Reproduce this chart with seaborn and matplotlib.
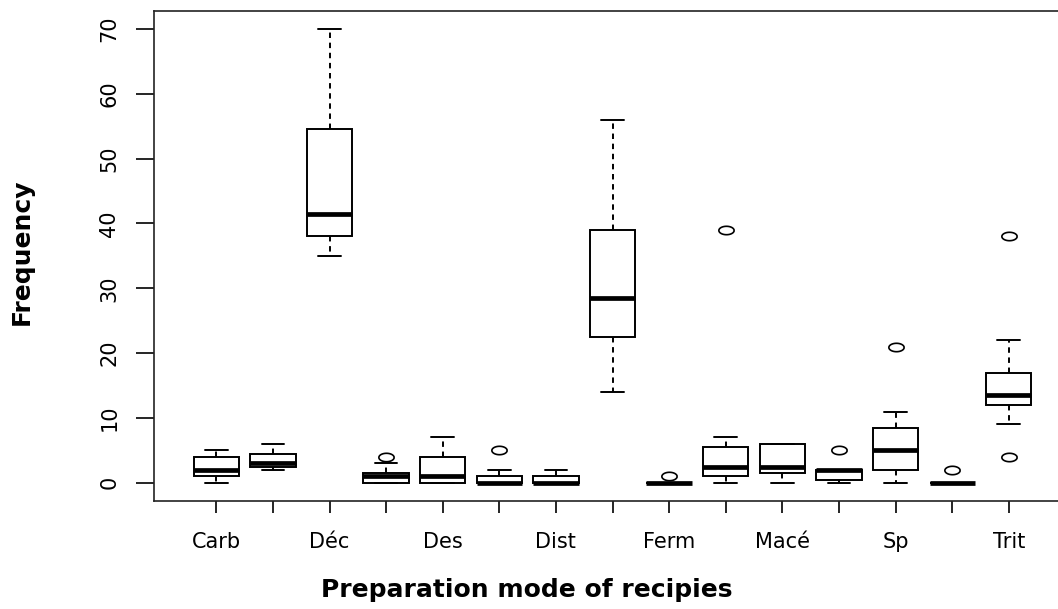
import numpy as np
import pandas as pd
import matplotlib
matplotlib.use("Agg")
import matplotlib.pyplot as plt
import seaborn as sns
from matplotlib.path import Path

# --- data: preparation modes in x-axis order (R only printed every other name) ---
modes = ["Carb", "Conc", "Déc", "Déco", "Des", "Dig", "Dist", "Écr",
         "Ferm", "Inf", "Macé", "Pou", "Sp", "Suc", "Trit"]
shown_labels = ["Carb", "", "Déc", "", "Des", "", "Dist", "",
                "Ferm", "", "Macé", "", "Sp", "", "Trit"]

# frequencies per mode (whiskers, hinges, median, outliers)
carb = [0, 1, 2, 4, 5]
conc = [2, 2.5, 3, 4.5, 6]
dec = [35, 38, 41.5, 54.5, 70]
deco = [0, 0, 0, 0, 1, 1, 1.5, 3, 4]
des = [0, 0, 1, 4, 7]
dig = [0, 0, 0, 0, 0, 1, 1, 2, 5]
dist = [0, 0, 0, 1, 2]
ecr = [14, 22.5, 28.5, 39, 56]
ferm = [0, 0, 0, 0, 0, 0, 0, 0, 1]
inf = [0, 1, 1, 2, 2.5, 4, 5.5, 7, 39]
mace = [0, 1.5, 2.5, 6, 6]
pou = [0, 0, 0.5, 1, 2, 2, 2, 2, 5]
sp = [0, 1, 2, 4, 5, 7, 8.5, 11, 21]
suc = [0, 0, 0, 0, 0, 0, 0, 0, 2]
trit = [4, 9, 12, 13, 13.5, 15, 17, 22, 38]

freqs = [carb, conc, dec, deco, des, dig, dist, ecr,
         ferm, inf, mace, pou, sp, suc, trit]
df = pd.DataFrame({
    "mode": np.repeat(modes, [len(v) for v in freqs]),
    "freq": np.concatenate(freqs),
})

# --- style ---
sns.set_style("ticks")
plt.rcParams["font.family"] = ["DejaVu Sans"]
plt.rcParams["axes.edgecolor"] = "#222222"
plt.rcParams["axes.linewidth"] = 1.2
plt.rcParams["text.color"] = "black"

# R draws open circles; the picture is stretched so they come out as ellipses
t = np.linspace(0, 2 * np.pi, 61)
ellipse = Path(np.column_stack([np.cos(t), 0.55 * np.sin(t)]))

fig = plt.figure(figsize=(10.58, 6.09), dpi=100)
ax = fig.add_axes([0.1456, 0.1773, 0.8667, 0.8051])

sns.boxplot(
    data=df, x="mode", y="freq", order=modes, ax=ax,
    color="white", linecolor="black", linewidth=1.4, width=0.8, whis=1.5,
    medianprops=dict(linewidth=3.4),
    whiskerprops=dict(linestyle=(0, (2.8, 2.4))),
    flierprops=dict(marker=ellipse, markersize=11, markerfacecolor="none",
                    markeredgecolor="black", markeredgewidth=1.2),
)

ax.set_xlim(-1.1, 15.1)
ax.set_ylim(-2.8, 72.8)
ax.set_yticks(range(0, 71, 10))
ax.set_xticks(range(len(modes)))
ax.set_xticklabels(shown_labels)
ax.set_xlabel("")
ax.set_ylabel("")

ax.tick_params(axis="x", length=8.5, width=1.2, pad=14, labelsize=15,
               colors="black")
ax.tick_params(axis="y", length=13, width=1.2, pad=12, labelsize=15,
               colors="black")
for lab in ax.get_yticklabels():
    lab.set_rotation(90)
    lab.set_va("center")

for side in ["left", "top", "bottom", "right"]:
    ax.spines[side].set_visible(True)

fig.text(22 / 1058, 1 - 252 / 609, "Frequency", rotation=90, ha="center",
         va="center", fontsize=18, fontweight="bold", color="black")
fig.text(527 / 1058, 1 - 590 / 609, "Preparation mode of recipies",
         ha="center", va="center", fontsize=18, fontweight="bold",
         color="black")

fig.savefig("out.png", dpi=100)
